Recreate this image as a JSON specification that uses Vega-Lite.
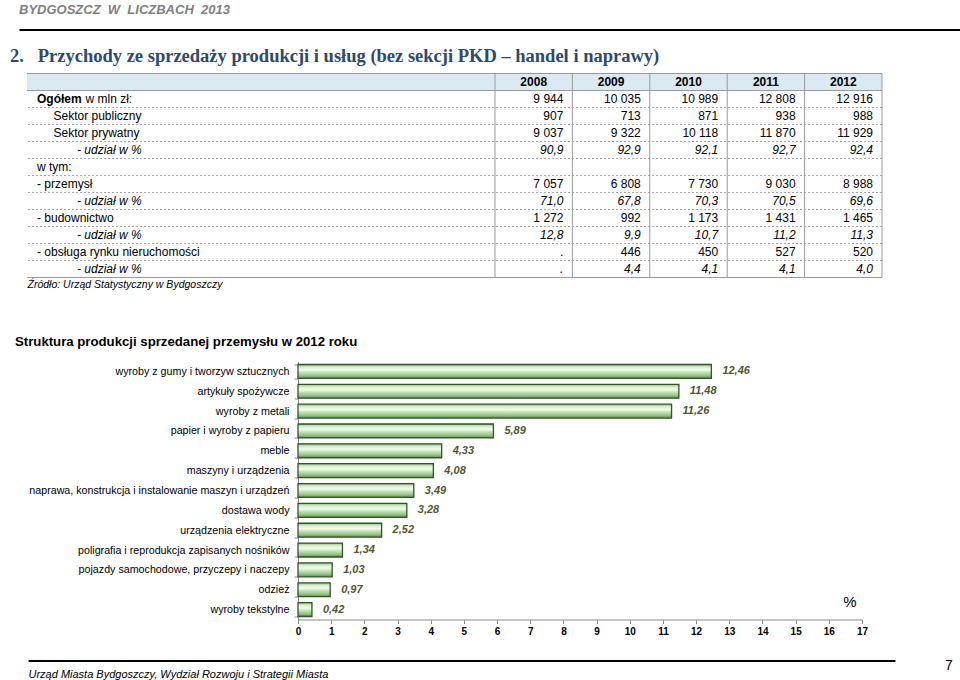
{
  "$schema": "https://vega.github.io/schema/vega-lite/v6.json",
  "padding": {"left": 10, "top": 3.5, "right": 0, "bottom": 0},
  "background": "white",
  "config": {
    "view": {"stroke": null},
    "font": "Liberation Sans",
    "locale": {"number": {"decimal": ",", "thousands": " ", "grouping": [3], "currency": ["", " zł"]}}
  },
  "datasets": {
    "rows": [
      {"r": 0, "label": "", "level": 0, "kind": "head"},
      {"r": 1, "label": "Ogółem", "unit": "w mln zł:", "level": 0, "kind": "total"},
      {"r": 2, "label": "Sektor publiczny", "level": 1, "kind": "name"},
      {"r": 3, "label": "Sektor prywatny", "level": 1, "kind": "name"},
      {"r": 4, "label": "- udział w %", "level": 2, "kind": "share"},
      {"r": 5, "label": "w tym:", "level": 0, "kind": "name"},
      {"r": 6, "label": "- przemysł", "level": 0, "kind": "name"},
      {"r": 7, "label": "- udział w %", "level": 2, "kind": "share"},
      {"r": 8, "label": "- budownictwo", "level": 0, "kind": "name"},
      {"r": 9, "label": "- udział w %", "level": 2, "kind": "share"},
      {"r": 10, "label": "- obsługa rynku nieruchomości", "level": 0, "kind": "name"},
      {"r": 11, "label": "- udział w %", "level": 2, "kind": "share"}
    ],
    "cells": [
      {"r": 0, "year": "2008", "v": "2008", "kind": "head"},
      {"r": 0, "year": "2009", "v": "2009", "kind": "head"},
      {"r": 0, "year": "2010", "v": "2010", "kind": "head"},
      {"r": 0, "year": "2011", "v": "2011", "kind": "head"},
      {"r": 0, "year": "2012", "v": "2012", "kind": "head"},
      {"r": 1, "year": "2008", "v": "9 944", "kind": "value"},
      {"r": 1, "year": "2009", "v": "10 035", "kind": "value"},
      {"r": 1, "year": "2010", "v": "10 989", "kind": "value"},
      {"r": 1, "year": "2011", "v": "12 808", "kind": "value"},
      {"r": 1, "year": "2012", "v": "12 916", "kind": "value"},
      {"r": 2, "year": "2008", "v": "907", "kind": "value"},
      {"r": 2, "year": "2009", "v": "713", "kind": "value"},
      {"r": 2, "year": "2010", "v": "871", "kind": "value"},
      {"r": 2, "year": "2011", "v": "938", "kind": "value"},
      {"r": 2, "year": "2012", "v": "988", "kind": "value"},
      {"r": 3, "year": "2008", "v": "9 037", "kind": "value"},
      {"r": 3, "year": "2009", "v": "9 322", "kind": "value"},
      {"r": 3, "year": "2010", "v": "10 118", "kind": "value"},
      {"r": 3, "year": "2011", "v": "11 870", "kind": "value"},
      {"r": 3, "year": "2012", "v": "11 929", "kind": "value"},
      {"r": 4, "year": "2008", "v": "90,9", "kind": "share"},
      {"r": 4, "year": "2009", "v": "92,9", "kind": "share"},
      {"r": 4, "year": "2010", "v": "92,1", "kind": "share"},
      {"r": 4, "year": "2011", "v": "92,7", "kind": "share"},
      {"r": 4, "year": "2012", "v": "92,4", "kind": "share"},
      {"r": 6, "year": "2008", "v": "7 057", "kind": "value"},
      {"r": 6, "year": "2009", "v": "6 808", "kind": "value"},
      {"r": 6, "year": "2010", "v": "7 730", "kind": "value"},
      {"r": 6, "year": "2011", "v": "9 030", "kind": "value"},
      {"r": 6, "year": "2012", "v": "8 988", "kind": "value"},
      {"r": 7, "year": "2008", "v": "71,0", "kind": "share"},
      {"r": 7, "year": "2009", "v": "67,8", "kind": "share"},
      {"r": 7, "year": "2010", "v": "70,3", "kind": "share"},
      {"r": 7, "year": "2011", "v": "70,5", "kind": "share"},
      {"r": 7, "year": "2012", "v": "69,6", "kind": "share"},
      {"r": 8, "year": "2008", "v": "1 272", "kind": "value"},
      {"r": 8, "year": "2009", "v": "992", "kind": "value"},
      {"r": 8, "year": "2010", "v": "1 173", "kind": "value"},
      {"r": 8, "year": "2011", "v": "1 431", "kind": "value"},
      {"r": 8, "year": "2012", "v": "1 465", "kind": "value"},
      {"r": 9, "year": "2008", "v": "12,8", "kind": "share"},
      {"r": 9, "year": "2009", "v": "9,9", "kind": "share"},
      {"r": 9, "year": "2010", "v": "10,7", "kind": "share"},
      {"r": 9, "year": "2011", "v": "11,2", "kind": "share"},
      {"r": 9, "year": "2012", "v": "11,3", "kind": "share"},
      {"r": 10, "year": "2008", "v": ".", "kind": "value"},
      {"r": 10, "year": "2009", "v": "446", "kind": "value"},
      {"r": 10, "year": "2010", "v": "450", "kind": "value"},
      {"r": 10, "year": "2011", "v": "527", "kind": "value"},
      {"r": 10, "year": "2012", "v": "520", "kind": "value"},
      {"r": 11, "year": "2008", "v": ".", "kind": "share"},
      {"r": 11, "year": "2009", "v": "4,4", "kind": "share"},
      {"r": 11, "year": "2010", "v": "4,1", "kind": "share"},
      {"r": 11, "year": "2011", "v": "4,1", "kind": "share"},
      {"r": 11, "year": "2012", "v": "4,0", "kind": "share"}
    ],
    "bars": [
      {"category": "wyroby z gumy i tworzyw sztucznych", "value": 12.46},
      {"category": "artykuły spożywcze", "value": 11.48},
      {"category": "wyroby z metali", "value": 11.26},
      {"category": "papier i wyroby z papieru", "value": 5.89},
      {"category": "meble", "value": 4.33},
      {"category": "maszyny i urządzenia", "value": 4.08},
      {"category": "naprawa, konstrukcja i instalowanie maszyn i urządzeń", "value": 3.49},
      {"category": "dostawa wody", "value": 3.28},
      {"category": "urządzenia elektryczne", "value": 2.52},
      {"category": "poligrafia i reprodukcja zapisanych nośników", "value": 1.34},
      {"category": "pojazdy samochodowe, przyczepy i naczepy", "value": 1.03},
      {"category": "odzież", "value": 0.97},
      {"category": "wyroby tekstylne", "value": 0.42}
    ]
  },
  "bounds": "flush",
  "spacing": 41,
  "vconcat": [
    {
      "width": 933,
      "height": 3,
      "data": {"values": [{"publikacja": "BYDGOSZCZ\u00a0\u00a0W\u00a0\u00a0LICZBACH\u00a0\u00a02013"}]},
      "title": {
        "text": "2.\u00a0\u00a0\u00a0Przychody ze sprzedaży produkcji i usług (bez sekcji PKD – handel i naprawy)",
        "orient": "bottom", "anchor": "start", "frame": "group", "dx": -17, "offset": 29,
        "baseline": "alphabetic", "font": "Liberation Serif", "fontSize": 18.5, "fontWeight": "bold", "color": "#2d4a6d"
      },
      "mark": {"type": "text", "align": "left", "baseline": "alphabetic", "dy": -17, "fontSize": 13, "fontWeight": "bold", "fontStyle": "italic", "color": "#808080"},
      "encoding": {
        "x": {
          "field": "publikacja", "type": "nominal", "bandPosition": 0,
          "scale": {"type": "band", "range": [-8, 933], "paddingInner": 0, "paddingOuter": 0},
          "axis": {"orient": "top", "labels": false, "ticks": false, "grid": false, "title": null, "domainColor": "#000000", "domainWidth": 2}
        },
        "text": {"field": "publikacja"}
      }
    },
    {
      "width": 855,
      "height": 204,
      "resolve": {"scale": {"x": "independent"}},
      "layer": [
        {
          "data": {"name": "rows"},
          "encoding": {
            "y": {"field": "r", "type": "ordinal", "scale": {"paddingInner": 0, "paddingOuter": 0}, "axis": null}
          },
          "layer": [
            {
              "transform": [{"filter": "datum.r == 0"}],
              "mark": {"type": "rect", "color": "#dbe9f3"}
            },
            {
              "transform": [{"filter": "datum.r >= 2"}],
              "mark": {"type": "rule", "color": "#a6a6a6", "strokeDash": [2, 2], "strokeWidth": 1},
              "encoding": {"y": {"field": "r", "type": "ordinal", "bandPosition": 0}}
            },
            {
              "transform": [{"filter": "datum.r <= 1"}],
              "mark": {"type": "rule", "color": "#999999", "strokeWidth": 1},
              "encoding": {"y": {"field": "r", "type": "ordinal", "bandPosition": 0}}
            },
            {
              "transform": [{"filter": "datum.r == 11"}],
              "mark": {"type": "rule", "color": "#999999", "strokeWidth": 1},
              "encoding": {"y": {"field": "r", "type": "ordinal", "bandPosition": 1}}
            },
            {
              "transform": [{"filter": "datum.kind == 'name'"}],
              "mark": {"type": "text", "align": "left", "fontSize": 12, "color": "#000000"},
              "encoding": {
                "x": {
                  "field": "level", "type": "quantitative",
                  "scale": {"domain": [-0.5, 0, 1, 2], "range": [0, 10, 26.5, 50], "zero": false, "nice": false},
                  "axis": {
                    "orient": "bottom", "labels": false, "ticks": false, "domain": false, "grid": false,
                    "title": "Źródło: Urząd Statystyczny w Bydgoszczy", "titleAnchor": "start",
                    "titleFontStyle": "italic", "titleFontWeight": "normal", "titleFontSize": 10.5,
                    "titleColor": "#000000", "titleBaseline": "alphabetic", "titlePadding": 10
                  }
                },
                "text": {"field": "label"}
              }
            },
            {
              "transform": [{"filter": "datum.kind == 'share'"}],
              "mark": {"type": "text", "align": "left", "fontSize": 12, "fontStyle": "italic", "color": "#000000"},
              "encoding": {
                "x": {"field": "level", "type": "quantitative"},
                "text": {"field": "label"}
              }
            },
            {
              "transform": [{"filter": "datum.kind == 'total'"}],
              "mark": {"type": "text", "align": "left", "fontSize": 12, "fontWeight": "bold", "color": "#000000"},
              "encoding": {
                "x": {"field": "level", "type": "quantitative"},
                "text": {"field": "label"}
              }
            },
            {
              "transform": [{"filter": "datum.kind == 'total'"}],
              "mark": {"type": "text", "align": "left", "dx": 48.5, "fontSize": 12, "color": "#000000"},
              "encoding": {
                "x": {"field": "level", "type": "quantitative"},
                "text": {"field": "unit"}
              }
            }
          ]
        },
        {
          "data": {"name": "cells"},
          "encoding": {
            "x": {
              "field": "year", "type": "ordinal",
              "scale": {"range": [468, 855], "paddingInner": 0, "paddingOuter": 0},
              "axis": null
            },
            "y": {"field": "r", "type": "ordinal"}
          },
          "layer": [
            {
              "transform": [{"filter": "datum.r == 0"}],
              "mark": {"type": "rule", "color": "#999999", "strokeWidth": 1},
              "encoding": {"x": {"field": "year", "type": "ordinal", "bandPosition": 0}, "y": null}
            },
            {
              "transform": [{"filter": "datum.r == 0 && datum.year == '2012'"}],
              "mark": {"type": "rule", "color": "#999999", "strokeWidth": 1},
              "encoding": {"x": {"field": "year", "type": "ordinal", "bandPosition": 1}, "y": null}
            },
            {
              "transform": [{"filter": "datum.kind == 'head'"}],
              "mark": {"type": "text", "align": "center", "fontSize": 12, "fontWeight": "bold", "color": "#000000"},
              "encoding": {"text": {"field": "v"}}
            },
            {
              "transform": [{"filter": "datum.kind == 'value'"}],
              "mark": {"type": "text", "align": "right", "dx": -9, "fontSize": 12, "color": "#000000"},
              "encoding": {"x": {"field": "year", "type": "ordinal", "bandPosition": 1}, "text": {"field": "v"}}
            },
            {
              "transform": [{"filter": "datum.kind == 'share'"}],
              "mark": {"type": "text", "align": "right", "dx": -9, "fontSize": 12, "fontStyle": "italic", "color": "#000000"},
              "encoding": {"x": {"field": "year", "type": "ordinal", "bandPosition": 1}, "text": {"field": "v"}}
            }
          ]
        }
      ]
    },
    {
      "width": 835,
      "height": 301,
      "data": {"name": "bars"},
      "title": {
        "text": "Struktura produkcji sprzedanej przemysłu w 2012 roku",
        "anchor": "start", "frame": "group", "dx": -12, "offset": -47, "baseline": "alphabetic",
        "font": "Liberation Sans", "fontSize": 13.2, "fontWeight": "bold", "color": "#000000"
      },
      "encoding": {
        "y": {
          "field": "category", "type": "nominal",
          "sort": {"field": "value", "order": "descending"},
          "scale": {"range": [43, 301], "paddingInner": 0.3, "paddingOuter": 0.15},
          "axis": {
            "offset": -271, "title": null, "domainColor": "#8c8c8c", "tickColor": "#8c8c8c", "tickSize": 4,
            "tickBand": "extent", "labelFontSize": 10.7, "labelColor": "#000000", "labelPadding": 5, "labelLimit": 400
          }
        },
        "x": {
          "field": "value", "type": "quantitative",
          "scale": {"domain": [0, 17], "range": [271, 835], "nice": false, "zero": true},
          "axis": {
            "values": [0, 1, 2, 3, 4, 5, 6, 7, 8, 9, 10, 11, 12, 13, 14, 15, 16, 17],
            "grid": false, "labelFlush": false, "labelOverlap": false,
            "labelFontWeight": "bold", "labelFontSize": 10, "labelColor": "#000000", "labelPadding": 3,
            "domainColor": "#8c8c8c", "tickColor": "#8c8c8c", "tickSize": 4,
            "title": "%", "titleX": 822.5, "titleY": -13, "titleAlign": "center", "titleBaseline": "alphabetic",
            "titleFontSize": 15, "titleFontWeight": "normal", "titleColor": "#000000"
          }
        }
      },
      "layer": [
        {
          "mark": {
            "type": "bar", "stroke": "#35522a", "strokeWidth": 1.3,
            "fill": {
              "gradient": "linear", "x1": 0, "y1": 0, "x2": 0, "y2": 1,
              "stops": [
                {"offset": 0, "color": "#8fbf80"},
                {"offset": 0.18, "color": "#d4efca"},
                {"offset": 0.38, "color": "#f2fcee"},
                {"offset": 0.58, "color": "#bfe2b2"},
                {"offset": 0.82, "color": "#93c184"},
                {"offset": 1, "color": "#5e8a50"}
              ]
            }
          }
        },
        {
          "mark": {"type": "text", "align": "left", "dx": 11, "fontSize": 11, "fontWeight": "bold", "fontStyle": "italic", "color": "#55562f"},
          "encoding": {"text": {"field": "value", "type": "quantitative", "format": ".2f"}}
        }
      ]
    },
    {
      "width": 868,
      "height": 0.01,
      "data": {"values": [{"strona": "7"}]},
      "mark": {"type": "text", "align": "left", "baseline": "middle", "dx": 50, "dy": 5, "fontSize": 14, "color": "#000000"},
      "encoding": {
        "x": {
          "field": "strona", "type": "nominal", "bandPosition": 1,
          "scale": {"type": "band", "range": [1, 868], "paddingInner": 0, "paddingOuter": 0},
          "axis": {
            "orient": "bottom", "labels": false, "ticks": false, "grid": false,
            "domainColor": "#000000", "domainWidth": 2,
            "title": "Urząd Miasta Bydgoszczy, Wydział Rozwoju i Strategii Miasta",
            "titleAnchor": "start", "titleFontStyle": "italic", "titleFontWeight": "normal", "titleFontSize": 11,
            "titleColor": "#000000", "titleBaseline": "alphabetic", "titlePadding": 17
          }
        },
        "text": {"field": "strona"}
      }
    }
  ]
}
